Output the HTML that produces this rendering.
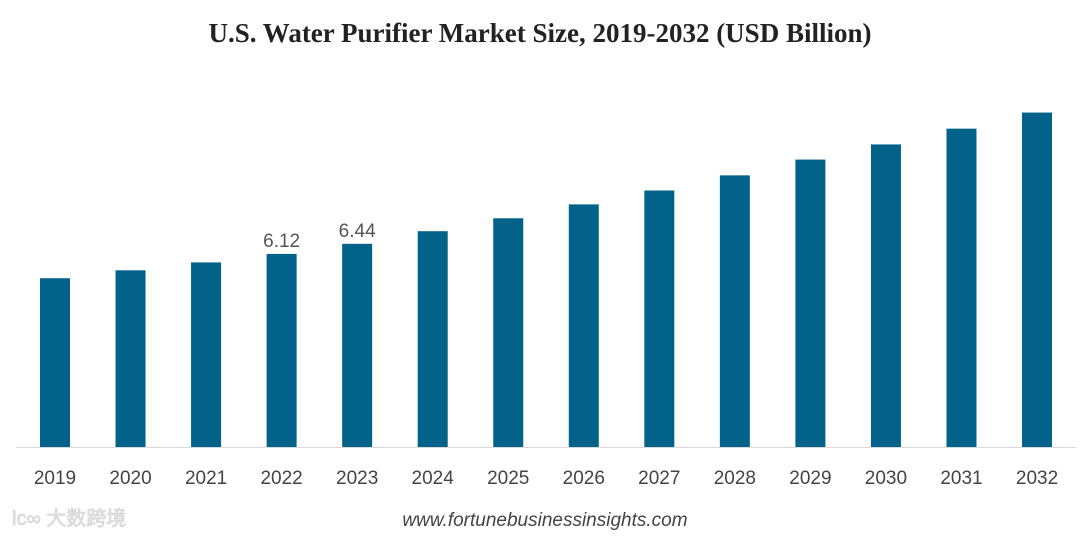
<!DOCTYPE html>
<html><head><meta charset="utf-8"><style>
body{margin:0;background:#fff;width:1080px;height:537px;overflow:hidden}
svg{display:block}
</style></head><body>
<svg id="chart" width="1080" height="537">
<text x="540" y="42" text-anchor="middle" font-family="Liberation Serif, serif" font-weight="bold" font-size="27" fill="#222">U.S. Water Purifier Market Size, 2019-2032 (USD Billion)</text>
<line x1="16" y1="447.5" x2="1076" y2="447.5" stroke="#d9d9d9" stroke-width="1"/>
<g id="bars"></g>
<text x="545" y="526" text-anchor="middle" font-family="Liberation Sans, sans-serif" font-style="italic" font-size="19" fill="#444">www.fortunebusinessinsights.com</text>
<text x="12" y="525" font-family="Liberation Sans, 'Noto Sans CJK SC', sans-serif" font-size="20" fill="#e4e4e4" stroke="#cfcfcf" stroke-width="0.6">lc∞ 大数跨境</text>
</svg>
<script>
const categories=["2019","2020","2021","2022","2023","2024","2025","2026","2027","2028","2029","2030","2031","2032"];
const values=[5.35,5.60,5.85,6.12,6.44,6.84,7.25,7.69,8.13,8.61,9.11,9.59,10.09,10.60];
const labelValues=[null,null,null,"6.12","6.44",null,null,null,null,null,null,null,null,null];
const baseY=447, pxPerUnit=31.55, x0=40, step=75.54, bw=30;
function xPos(i){return x0+i*step;}
function yPos(v){return baseY-v*pxPerUnit;}
const g=document.getElementById('bars');
const NS="http://www.w3.org/2000/svg";
categories.forEach((c,i)=>{
  const r=document.createElementNS(NS,'rect');
  r.setAttribute('x',xPos(i));r.setAttribute('y',yPos(values[i]));
  r.setAttribute('width',bw);r.setAttribute('height',baseY-yPos(values[i]));
  r.setAttribute('fill','#03628a');
  
  
  g.appendChild(r);
  const t=document.createElementNS(NS,'text');
  t.setAttribute('x',xPos(i)+bw/2);t.setAttribute('y',484);
  t.setAttribute('text-anchor','middle');t.setAttribute('font-family','Liberation Sans, sans-serif');
  t.setAttribute('font-size','19');t.setAttribute('fill','#444');
  t.textContent=c;
  
  
  g.appendChild(t);
  if(labelValues[i]){
    const l=document.createElementNS(NS,'text');
    l.setAttribute('x',xPos(i)+bw/2);l.setAttribute('y',yPos(values[i])-7);
    l.setAttribute('text-anchor','middle');l.setAttribute('font-family','Liberation Sans, sans-serif');
    l.setAttribute('font-size','19');l.setAttribute('fill','#555');
    l.textContent=labelValues[i];
    
    
    g.appendChild(l);
  }
});
</script>
</body></html>
